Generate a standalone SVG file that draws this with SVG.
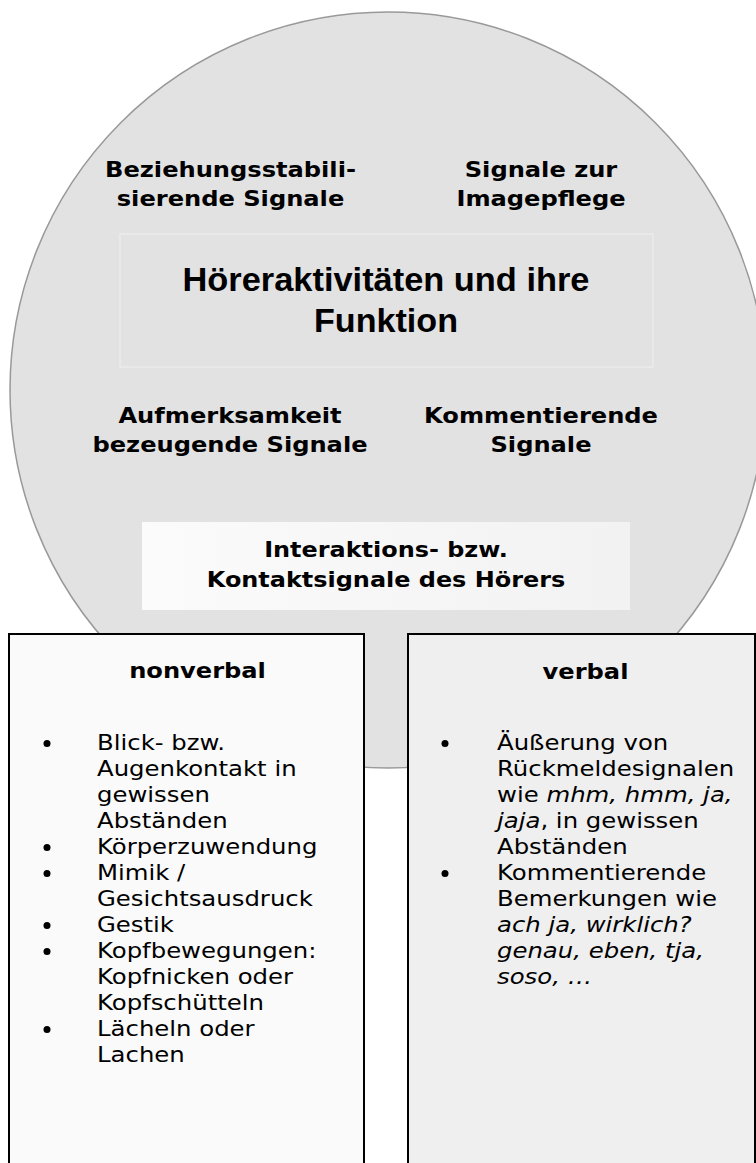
<svg xmlns="http://www.w3.org/2000/svg" width="756" height="1163" viewBox="0 0 756 1163">
<style>
.lbl{font-family:"DejaVu Sans","Verdana",sans-serif;font-weight:bold;font-size:21px;fill:#000;text-anchor:middle}
.title{font-family:"Liberation Sans",Arial,sans-serif;font-weight:bold;font-size:33px;fill:#000;text-anchor:middle}
.body{font-family:"DejaVu Sans","Verdana",sans-serif;font-size:21px;fill:#000}
.it{font-style:italic}
.bul{fill:#000}
.box{stroke:#000;stroke-width:2}
</style>
<defs>
<linearGradient id="gInt" x1="0" y1="0" x2="1" y2="0">
<stop offset="0" stop-color="#fbfbfb"/>
<stop offset="1" stop-color="#f2f2f2"/>
</linearGradient>
</defs>
<rect width="756" height="1163" fill="#ffffff"/>
<g id="circle">
<circle cx="388" cy="390" r="378" fill="#e2e2e2" stroke="#999999" stroke-width="1.5"/>
</g>
<g id="title">
<rect x="120" y="234" width="533" height="133" fill="#e2e2e2" stroke="#efefef" stroke-width="1"/>
<text class="title" x="386" y="291" textLength="407" lengthAdjust="spacingAndGlyphs">Höreraktivitäten und ihre</text>
<text class="title" x="386" y="332" textLength="144" lengthAdjust="spacingAndGlyphs">Funktion</text>
</g>
<g id="beziehung">
<text class="lbl" transform="translate(230.5 177) scale(1.15 1)">Beziehungsstabili-</text>
<text class="lbl" transform="translate(230.5 206) scale(1.15 1)">sierende Signale</text>
</g>
<g id="image">
<text class="lbl" transform="translate(541 177) scale(1.15 1)">Signale zur</text>
<text class="lbl" transform="translate(541 206) scale(1.15 1)">Imagepflege</text>
</g>
<g id="aufmerksamkeit">
<text class="lbl" transform="translate(230 423) scale(1.15 1)">Aufmerksamkeit</text>
<text class="lbl" transform="translate(230 452) scale(1.15 1)">bezeugende Signale</text>
</g>
<g id="kommentierend">
<text class="lbl" transform="translate(541 423) scale(1.15 1)">Kommentierende</text>
<text class="lbl" transform="translate(541 452) scale(1.15 1)">Signale</text>
</g>
<g id="interaktion">
<rect x="142" y="522" width="488" height="88" fill="url(#gInt)"/>
<text class="lbl" transform="translate(386 557) scale(1.14 1)">Interaktions- bzw.</text>
<text class="lbl" transform="translate(386 587) scale(1.14 1)">Kontaktsignale des Hörers</text>
</g>
<g id="connectors"></g>
<g id="nonverbal">
<rect class="box" x="9" y="634" width="355" height="540" fill="#fafafa"/>
<text class="lbl" transform="translate(197.5 678) scale(1.15 1)">nonverbal</text>
<circle class="bul" cx="47" cy="743.5" r="3.5"/>
<circle class="bul" cx="47" cy="847.5" r="3.5"/>
<circle class="bul" cx="47" cy="873.5" r="3.5"/>
<circle class="bul" cx="47" cy="925.5" r="3.5"/>
<circle class="bul" cx="47" cy="951.5" r="3.5"/>
<circle class="bul" cx="47" cy="1029.5" r="3.5"/>
<text class="body" transform="translate(97 750) scale(1.16 1)">
<tspan x="0" y="0">Blick- bzw.</tspan>
<tspan x="0" y="26">Augenkontakt in</tspan>
<tspan x="0" y="52">gewissen</tspan>
<tspan x="0" y="78">Abständen</tspan>
<tspan x="0" y="104">Körperzuwendung</tspan>
<tspan x="0" y="130">Mimik /</tspan>
<tspan x="0" y="156">Gesichtsausdruck</tspan>
<tspan x="0" y="182">Gestik</tspan>
<tspan x="0" y="208">Kopfbewegungen:</tspan>
<tspan x="0" y="234">Kopfnicken oder</tspan>
<tspan x="0" y="260">Kopfschütteln</tspan>
<tspan x="0" y="286">Lächeln oder</tspan>
<tspan x="0" y="312">Lachen</tspan>
</text>
</g>
<g id="verbal">
<rect class="box" x="408" y="634" width="347" height="540" fill="#efefef"/>
<text class="lbl" transform="translate(585.5 679) scale(1.15 1)">verbal</text>
<circle class="bul" cx="445" cy="743.5" r="3.5"/>
<circle class="bul" cx="445" cy="873.5" r="3.5"/>
<text class="body" transform="translate(497 750) scale(1.16 1)">
<tspan x="0" y="0">Äußerung von</tspan>
<tspan x="0" y="26">Rückmeldesignalen</tspan>
<tspan x="0" y="52">wie <tspan class="it">mhm, hmm, ja,</tspan></tspan>
<tspan x="0" y="78"><tspan class="it">jaja</tspan>, in gewissen</tspan>
<tspan x="0" y="104">Abständen</tspan>
<tspan x="0" y="130">Kommentierende</tspan>
<tspan x="0" y="156">Bemerkungen wie</tspan>
<tspan x="0" y="182" class="it">ach ja, wirklich?</tspan>
<tspan x="0" y="208" class="it">genau, eben, tja,</tspan>
<tspan x="0" y="234" class="it">soso, …</tspan>
</text>
</g>
</svg>
